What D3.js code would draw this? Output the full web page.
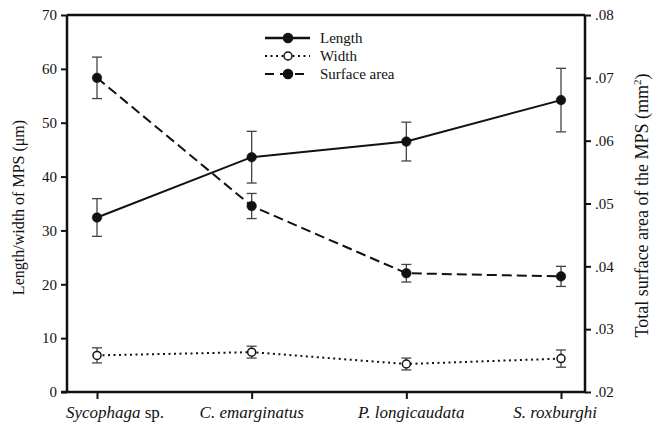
<!DOCTYPE html>
<html>
<head>
  <meta charset="utf-8">
  <title>MPS size</title>
  <script src="https://d3js.org/d3.v7.min.js"></script>
  <style>
    body { margin: 0; background: #fff; }
    text { font-family: "Liberation Serif", "DejaVu Serif", serif; fill: #111; }
  </style>
</head>
<body>
  <div id="chart"></div>
  <script>
    // species (x), mean values and error bar limits
    var species = ["Sycophaga", "C. emarginatus", "P. longicaudata", "S. roxburghi"];
    var speciesSuffix = [" sp.", "", "", ""];
    var lengthMean = [32.4, 43.6, 46.5, 54.2];
    var lengthErr = [3.5, 4.8, 3.6, 5.9];
    var widthMean = [6.8, 7.4, 5.2, 6.2];
    var widthErr = [1.4, 1.1, 1.1, 1.6];
    var areaMean = [0.0700, 0.0496, 0.0389, 0.0384];
    var areaErr = [0.0033, 0.0020, 0.0014, 0.0016];
    var leftTicks = [0, 10, 20, 30, 40, 50, 60, 70];
    var rightTicks = [0.02, 0.03, 0.04, 0.05, 0.06, 0.07, 0.08];

    var W = 654, H = 429;
    var margin = { top: 15, right: 69, bottom: 37, left: 67 };
    var width = W - margin.left - margin.right;
    var height = H - margin.top - margin.bottom;

    var svg = d3.select("#chart").append("svg")
      .attr("width", W).attr("height", H);
    var g = svg.append("g")
      .attr("transform", "translate(" + margin.left + "," + margin.top + ")");

    var x = d3.scalePoint().domain(species).range([30, width - 24]);
    var yL = d3.scaleLinear().domain([0, 70]).range([height, 0]);
    var yR = d3.scaleLinear().domain([0.02, 0.08]).range([height, 0]);

    // frame top line
    g.append("line").attr("x1", 0).attr("x2", width).attr("y1", 0).attr("y2", 0)
      .attr("stroke", "#111").attr("stroke-width", 2.5);

    var leftAxis = g.append("g")
      .call(d3.axisLeft(yL).tickValues(leftTicks).tickSize(6).tickPadding(4));
    var rightAxis = g.append("g").attr("transform", "translate(" + width + ",0)")
      .call(d3.axisRight(yR).tickValues(rightTicks).tickSize(6).tickPadding(4)
        .tickFormat(function (d) { return d3.format(".2f")(d).replace(/^0/, ""); }));
    var bottomAxis = g.append("g").attr("transform", "translate(0," + height + ")")
      .call(d3.axisBottom(x).tickSize(7).tickFormat(""));

    [leftAxis, rightAxis, bottomAxis].forEach(function (a) {
      a.select(".domain").attr("stroke", "#111").attr("stroke-width", 2.5);
      a.selectAll(".tick line").attr("stroke", "#111").attr("stroke-width", 2);
      a.selectAll(".tick text").style("font-size", "15px")
        .style("font-family", "Liberation Serif").attr("fill", "#222");
    });
    leftAxis.select(".domain").attr("d", "M0," + height + "V0");
    rightAxis.select(".domain").attr("d", "M0," + height + "V0");
    bottomAxis.select(".domain").attr("d", "M-6,0H" + (width + 1));

    // x labels: italic names, sitting a little off the ticks like the original
    var labelShift = [18, 0, 5, -6];
    var xl = g.append("g").selectAll("text").data(species).join("text")
      .attr("x", function (d, i) { return x(d) + labelShift[i]; })
      .attr("y", height + 26)
      .attr("text-anchor", "middle")
      .style("font-size", "17px");
    xl.append("tspan").style("font-style", "italic").text(function (d) { return d; });
    xl.append("tspan").attr("xml:space", "preserve")
      .text(function (d, i) { return speciesSuffix[i]; });

    // axis titles
    svg.append("text")
      .attr("transform", "translate(24," + (margin.top + height / 2 + 4) + ") rotate(-90)")
      .attr("text-anchor", "middle").style("font-size", "16px")
      .text("Length/width of MPS (\u03bcm)");
    var rt = svg.append("text")
      .attr("transform", "translate(648," + (margin.top + height / 2 + 2) + ") rotate(-90)")
      .attr("text-anchor", "middle").style("font-size", "18px");
    rt.append("tspan").text("Total surface area of the MPS (mm");
    rt.append("tspan").attr("dy", -7).style("font-size", "11px").text("2");
    rt.append("tspan").attr("dy", 7).text(")");

    function drawSeries(means, errs, y, dash, filled) {
      var pts = species.map(function (s, i) { return { s: s, v: means[i], e: errs[i] }; });
      g.append("path").datum(pts)
        .attr("fill", "none").attr("stroke", "#111")
        .attr("stroke-width", 2)
        .attr("stroke-dasharray", dash === "dot" ? "2,3.5" : dash === "dash" ? "10,5" : null)
        .attr("d", d3.line().x(function (d) { return x(d.s); }).y(function (d) { return y(d.v); }));
      var eb = g.append("g").selectAll("g").data(pts).join("g")
        .attr("stroke", "#444").attr("stroke-width", 1.3);
      eb.append("line")
        .attr("x1", function (d) { return x(d.s); }).attr("x2", function (d) { return x(d.s); })
        .attr("y1", function (d) { return y(d.v - d.e); }).attr("y2", function (d) { return y(d.v + d.e); });
      [-1, 1].forEach(function (k) {
        eb.append("line")
          .attr("x1", function (d) { return x(d.s) - 5; }).attr("x2", function (d) { return x(d.s) + 5; })
          .attr("y1", function (d) { return y(d.v + k * d.e); }).attr("y2", function (d) { return y(d.v + k * d.e); });
      });
      g.append("g").selectAll("circle").data(pts).join("circle")
        .attr("cx", function (d) { return x(d.s); }).attr("cy", function (d) { return y(d.v); })
        .attr("r", filled ? 4.8 : 4)
        .attr("fill", filled ? "#111" : "#fff")
        .attr("stroke", "#111").attr("stroke-width", filled ? 0.5 : 1.5);
    }

    drawSeries(areaMean, areaErr, yR, "dash", true);
    drawSeries(widthMean, widthErr, yL, "dot", false);
    drawSeries(lengthMean, lengthErr, yL, null, true);

    // legend
    var legend = [
      { name: "Length", dash: null, filled: true },
      { name: "Width", dash: "dot", filled: false },
      { name: "Surface area", dash: "dash", filled: true }
    ];
    var lg = svg.append("g").attr("transform", "translate(265,38)");
    legend.forEach(function (d, i) {
      var row = lg.append("g").attr("transform", "translate(0," + i * 18 + ")");
      row.append("line").attr("x1", 0).attr("x2", 45).attr("y1", 0).attr("y2", 0)
        .attr("stroke", "#111").attr("stroke-width", d.dash === null ? 2.5 : 2)
        .attr("stroke-dasharray", d.dash === "dot" ? "2,3.5" : d.dash === "dash" ? "9,6" : null);
      row.append("circle").attr("cx", 23).attr("cy", 0).attr("r", d.filled ? 4.5 : 4)
        .attr("fill", d.filled ? "#111" : "#fff").attr("stroke", "#111").attr("stroke-width", 1.5);
      row.append("text").attr("x", 55).attr("y", 5).style("font-size", "15px").text(d.name);
    });
  </script>
</body>
</html>
